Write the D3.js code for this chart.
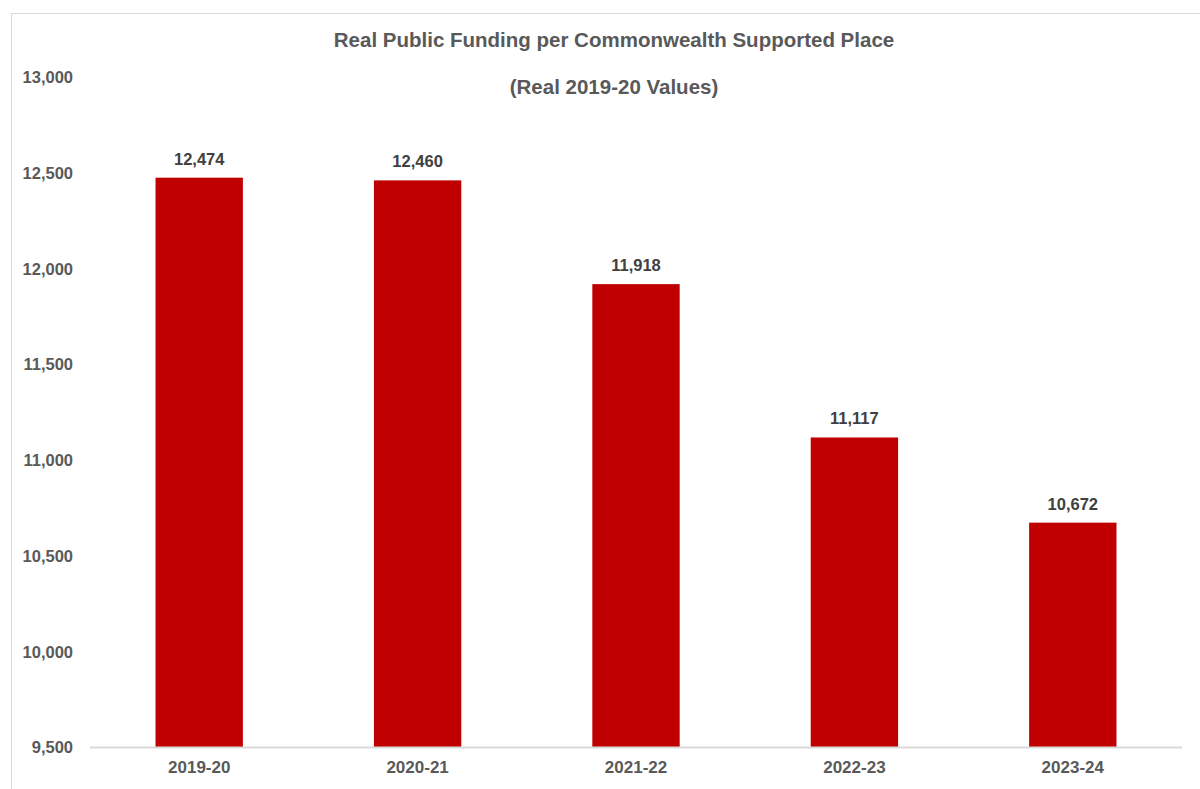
<!DOCTYPE html>
<html>
<head>
<meta charset="utf-8">
<script src="https://cdn.jsdelivr.net/npm/d3@7"></script>
<style>
  html, body { margin: 0; padding: 0; background: #fff; }
  svg { display: block; font-family: "Liberation Sans", Arial, sans-serif; }
</style>
</head>
<body>
<script>
// chart values
var years = ['2019-20', '2020-21', '2021-22', '2022-23', '2023-24'];
var funding = [12474, 12460, 11918, 11117, 10672];
var yTicks = [9500, 10000, 10500, 11000, 11500, 12000, 12500, 13000];
var titleLines = ['Real Public Funding per Commonwealth Supported Place', '(Real 2019-20 Values)'];

var W = 1200, H = 789;
var margin = {top: 77, left: 90, right: 18, bottom: 42};

var svg = d3.select('body').append('svg')
    .attr('width', W)
    .attr('height', H);

// light frame of the chart area
svg.append('rect')
    .attr('x', 11.5)
    .attr('y', 13.5)
    .attr('width', W)
    .attr('height', H)
    .style('fill', 'none')
    .style('stroke', '#d9d9d9')
    .style('stroke-width', 1);

var x = d3.scaleBand()
    .domain(years)
    .range([margin.left, W - margin.right])
    .paddingInner(0.6)
    .paddingOuter(0.3);

var y = d3.scaleLinear()
    .domain([9500, 13000])
    .range([747, margin.top]);

// titles
svg.selectAll('text.title')
    .data(titleLines)
    .enter()
    .append('text')
    .attr('class', 'title')
    .attr('x', 614)
    .attr('y', function(d, i) { return 47 + i * 47; })
    .attr('text-anchor', 'middle')
    .style('font-size', '20.5px')
    .style('font-weight', 'bold')
    .style('fill', '#595959')
    .text(function(d) { return d; });

// y axis labels (no line, no ticks)
var yAxis = svg.append('g')
    .attr('transform', 'translate(' + 73 + ',0)')
    .call(d3.axisLeft(y).tickValues(yTicks).tickSize(0).tickPadding(0)
        .tickFormat(d3.format(',')));
yAxis.select('.domain').remove();
yAxis.selectAll('text')
    .attr('dy', '0.35em')
    .style('font-family', '"Liberation Sans", Arial, sans-serif')
    .style('font-size', '16.5px')
    .style('font-weight', 'bold')
    .style('fill', '#595959');

// bars
svg.selectAll('rect.bar')
    .data(funding)
    .enter()
    .append('rect')
    .attr('class', 'bar')
    .attr('x', function(d, i) { return x(years[i]); })
    .attr('y', function(d) { return y(d); })
    .attr('width', x.bandwidth())
    .attr('height', function(d) { return y(9500) - y(d); })
    .style('fill', '#c00000');

// value labels
svg.selectAll('text.val')
    .data(funding)
    .enter()
    .append('text')
    .attr('class', 'val')
    .attr('x', function(d, i) { return x(years[i]) + x.bandwidth() / 2; })
    .attr('y', function(d) { return y(d) - 13; })
    .attr('text-anchor', 'middle')
    .style('font-size', '16.5px')
    .style('font-weight', 'bold')
    .style('fill', '#404040')
    .text(function(d) { return d3.format(',')(d); });

// x axis
var xAxis = svg.append('g')
    .attr('transform', 'translate(0,' + y(9500) + ')')
    .call(d3.axisBottom(x).tickSize(0).tickPadding(14));
xAxis.select('.domain')
    .attr('d', 'M' + margin.left + ',0.5H' + (W - margin.right))
    .style('stroke', '#d9d9d9')
    .style('stroke-width', 2);
xAxis.selectAll('text')
    .style('font-family', '"Liberation Sans", Arial, sans-serif')
    .style('font-size', '17px')
    .style('font-weight', 'bold')
    .style('fill', '#595959');
</script>
</body>
</html>
